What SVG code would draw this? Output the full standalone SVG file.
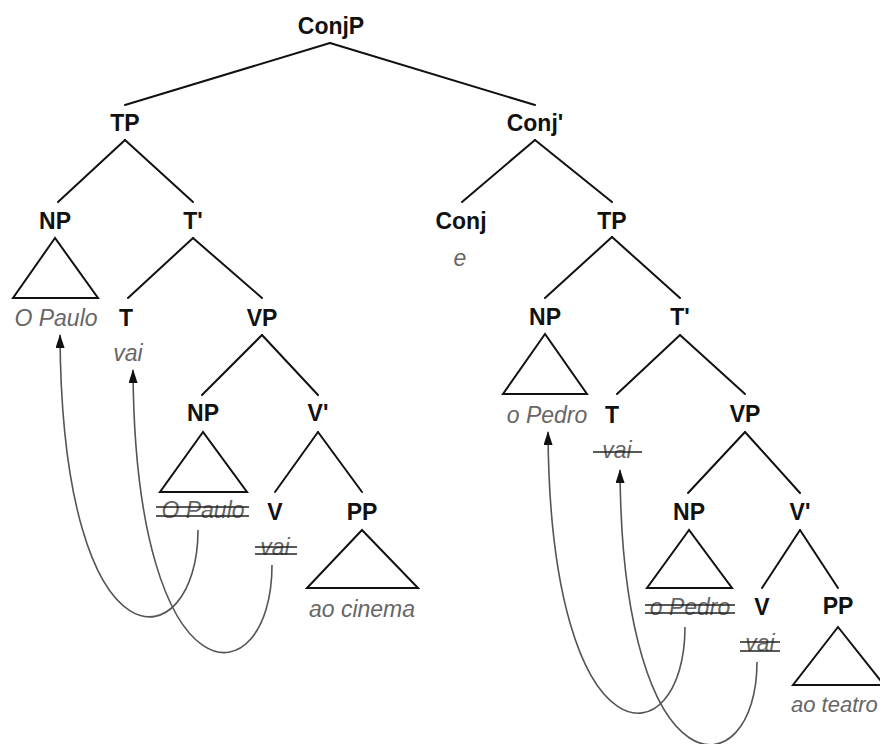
<svg xmlns="http://www.w3.org/2000/svg" width="880" height="744" viewBox="0 0 880 744">
  <style>
    .lbl { font-family: "Liberation Sans", Arial, sans-serif; font-weight: bold; font-size: 23px; fill: #111; text-anchor: middle; }
    .wd { font-family: "Liberation Sans", Arial, sans-serif; font-style: italic; font-size: 23px; fill: #666; text-anchor: middle; }
    .edge { stroke: #111; stroke-width: 2; fill: none; stroke-linecap: round; }
    .tri { stroke: #111; stroke-width: 2; fill: none; stroke-linejoin: miter; }
    .move { stroke: #555; stroke-width: 1.6; fill: none; marker-end: url(#head); }
    .strike { stroke: #222; stroke-width: 1.6; }
  </style>
  <defs>
    <marker id="head" viewBox="0 0 14 9" refX="13" refY="4.5" markerWidth="14" markerHeight="9" markerUnits="userSpaceOnUse" orient="auto">
      <path d="M0,0 L14,4.5 L0,9 z" fill="#111"/>
    </marker>
  </defs>
  <rect width="880" height="744" fill="#fff"/>

  <!-- tree branches and movement arrows -->
  <g id="connectors">
    <line class="edge" x1="330" y1="43" x2="125" y2="105"/>
    <line class="edge" x1="330" y1="43" x2="535" y2="105"/>
    <line class="edge" x1="125" y1="140" x2="58" y2="202"/>
    <line class="edge" x1="125" y1="140" x2="193" y2="202"/>
    <line class="edge" x1="535" y1="140" x2="462" y2="202"/>
    <line class="edge" x1="535" y1="140" x2="612" y2="202"/>
    <line class="edge" x1="193" y1="238" x2="128" y2="298"/>
    <line class="edge" x1="193" y1="238" x2="262" y2="298"/>
    <line class="edge" x1="612" y1="237" x2="545" y2="298"/>
    <line class="edge" x1="612" y1="237" x2="680" y2="298"/>
    <line class="edge" x1="262" y1="335" x2="202" y2="395"/>
    <line class="edge" x1="262" y1="335" x2="318" y2="395"/>
    <line class="edge" x1="680" y1="335" x2="617" y2="394"/>
    <line class="edge" x1="680" y1="335" x2="745" y2="394"/>
    <line class="edge" x1="318" y1="432" x2="275" y2="492"/>
    <line class="edge" x1="318" y1="432" x2="362" y2="492"/>
    <line class="edge" x1="745" y1="432" x2="688" y2="493"/>
    <line class="edge" x1="745" y1="432" x2="800" y2="493"/>
    <line class="edge" x1="800" y1="530" x2="762" y2="588"/>
    <line class="edge" x1="800" y1="530" x2="838" y2="588"/>

    <path class="move" d="M198,530 C198,660 62,680 60,335"/>
    <path class="move" d="M272,565 C272,700 135,710 133,370"/>
    <path class="move" d="M685,627 C685,760 550,770 548,432"/>
    <path class="move" d="M757,662 C757,790 622,800 620,470"/>
  </g>

  <g id="conjp"><text class="lbl" x="331" y="34">ConjP</text></g>
  <g id="tp1"><text class="lbl" x="125" y="131">TP</text></g>
  <g id="conjbar"><text class="lbl" x="535" y="131">Conj'</text></g>

  <g id="np1">
    <text class="lbl" x="55" y="229">NP</text>
    <polygon class="tri" points="55,238 13,298 98,298"/>
    <text class="wd" x="56" y="326">O Paulo</text>
  </g>
  <g id="tbar1"><text class="lbl" x="193" y="229">T'</text></g>
  <g id="conj">
    <text class="lbl" x="461" y="229">Conj</text>
    <text class="wd" x="460" y="266">e</text>
  </g>
  <g id="tp2"><text class="lbl" x="612" y="229">TP</text></g>

  <g id="t1">
    <text class="lbl" x="126" y="326">T</text>
    <text class="wd" x="128" y="361">vai</text>
  </g>
  <g id="vp1"><text class="lbl" x="262" y="326">VP</text></g>

  <g id="np3">
    <text class="lbl" x="545" y="325">NP</text>
    <polygon class="tri" points="545,334 503,394 587,394"/>
    <text class="wd" x="547" y="423">o Pedro</text>
  </g>
  <g id="tbar2"><text class="lbl" x="680" y="325">T'</text></g>

  <g id="np2">
    <text class="lbl" x="203" y="421">NP</text>
    <polygon class="tri" points="203,432 160,492 247,492"/>
    <text class="wd" x="203" y="518">O Paulo</text>
    <line class="strike" x1="156" y1="507" x2="249" y2="507"/>
    <line class="strike" x1="156" y1="516" x2="249" y2="516"/>
  </g>
  <g id="vbar1"><text class="lbl" x="318" y="421">V'</text></g>

  <g id="t2">
    <text class="lbl" x="612" y="423">T</text>
    <text class="wd" x="617" y="458">vai</text>
    <line class="strike" x1="593" y1="452" x2="642" y2="452"/>
  </g>
  <g id="vp2"><text class="lbl" x="745" y="422">VP</text></g>

  <g id="v1">
    <text class="lbl" x="275" y="520">V</text>
    <text class="wd" x="275" y="555">vai</text>
    <line class="strike" x1="255" y1="547" x2="297" y2="547"/>
    <line class="strike" x1="255" y1="554" x2="297" y2="554"/>
  </g>
  <g id="pp1">
    <text class="lbl" x="362" y="520">PP</text>
    <polygon class="tri" points="362,530 307,588 418,588"/>
    <text class="wd" x="362" y="617">ao cinema</text>
  </g>

  <g id="np4">
    <text class="lbl" x="689" y="520">NP</text>
    <polygon class="tri" points="689,530 647,588 732,588"/>
    <text class="wd" x="690" y="615">o Pedro</text>
    <line class="strike" x1="645" y1="605" x2="735" y2="605"/>
    <line class="strike" x1="645" y1="613" x2="735" y2="613"/>
  </g>
  <g id="vbar2"><text class="lbl" x="800" y="520">V'</text></g>

  <g id="v2">
    <text class="lbl" x="762" y="615">V</text>
    <text class="wd" x="760" y="651">vai</text>
    <line class="strike" x1="740" y1="642" x2="780" y2="642"/>
    <line class="strike" x1="740" y1="651" x2="780" y2="651"/>
  </g>
  <g id="pp2">
    <text class="lbl" x="838" y="614">PP</text>
    <polygon class="tri" points="838,627 793,685 884,685"/>
    <text class="wd" x="791" y="712" style="text-anchor:start;font-size:22px">ao teatro</text>
  </g>
</svg>
